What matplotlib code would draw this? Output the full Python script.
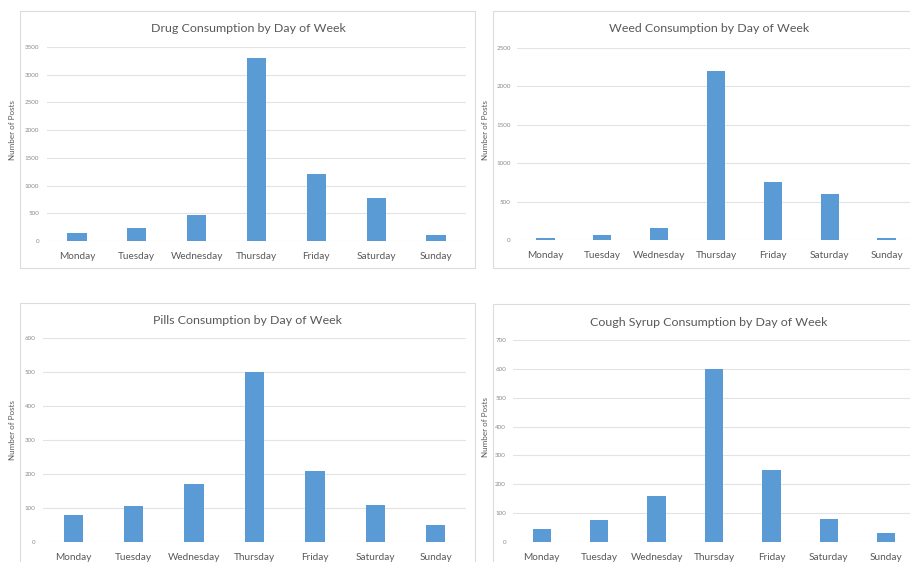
import matplotlib
matplotlib.use("Agg")
import matplotlib.pyplot as plt
from matplotlib.patches import Rectangle

plt.rcParams['font.family'] = ['Lato', 'DejaVu Sans']

W, H = 910, 562

days = ["Monday", "Tuesday", "Wednesday", "Thursday", "Friday", "Saturday", "Sunday"]

drug_posts = [150, 230, 475, 3300, 1200, 780, 100]
weed_posts = [30, 60, 150, 2200, 750, 600, 20]
pills_posts = [80, 105, 170, 500, 210, 110, 50]
cough_posts = [45, 75, 160, 600, 250, 80, 30]

titles = ["Drug Consumption by Day of Week",
          "Weed Consumption by Day of Week",
          "Pills Consumption by Day of Week",
          "Cough Syrup Consumption by Day of Week"]
y_ticks = [list(range(0, 3501, 500)),
           list(range(0, 2501, 500)),
           list(range(0, 601, 100)),
           list(range(0, 701, 100))]
series = [drug_posts, weed_posts, pills_posts, cough_posts]

BAR = "#5b9bd5"
GRID = "#e3e3e3"
FRAME = "#dcdcdc"
TEXT = "#595959"
TICK = "#8c8c8c"

fig = plt.figure(figsize=(W / 100, H / 100), dpi=100)
fig.patch.set_facecolor("white")


def fx(x):
    return x / W


def fy(y):
    return 1 - y / H


# panel frames: (left, top, right, bottom) in pixels
frames = [(20, 11, 475, 268), (493, 11, 925, 268),
          (20, 303, 475, 580), (493, 304, 925, 580)]
for (l, t, r, b) in frames:
    fig.patches.append(Rectangle((fx(l), fy(b)), fx(r - l), fy(t) - fy(b),
                                 transform=fig.transFigure, fill=False,
                                 edgecolor=FRAME, linewidth=0.8, zorder=0))

# plot areas: (left, top, right, bottom) in pixels
areas = [(47, 47, 466, 241), (517, 48, 915, 240),
         (43, 338, 466, 542), (513, 340, 915, 542)]
title_pos = [(248, 28), (709, 28), (248, 320), (709, 322)]
ylabel_pos = [(13, 130), (485, 130), (13, 430), (485, 427)]
ytick_pad = [5.5, 4.5, 5.5, 5.0]

for i in range(4):
    l, t, r, b = areas[i]
    ax = fig.add_axes([fx(l), fy(b), fx(r - l), fy(t) - fy(b)])
    ax.set_facecolor("none")
    ax.bar(range(len(days)), series[i], width=0.32, color=BAR, zorder=3)
    ax.set_xlim(-0.5, len(days) - 0.5)
    ax.set_ylim(0, y_ticks[i][-1])
    ax.set_yticks(y_ticks[i])
    ax.set_xticks(range(len(days)))
    ax.set_xticklabels(days)
    for s in ax.spines.values():
        s.set_visible(False)
    ax.yaxis.grid(True, color=GRID, linewidth=0.8)
    ax.set_axisbelow(True)
    ax.tick_params(axis="y", length=0, pad=ytick_pad[i], labelsize=4.5,
                   labelcolor=TICK)
    ax.tick_params(axis="x", length=0, pad=8, labelsize=7.2,
                   labelcolor=TEXT)

    tx, ty = title_pos[i]
    fig.text(fx(tx), fy(ty), titles[i], ha="center", va="center",
             fontsize=8.9, color=TEXT)
    lx, ly = ylabel_pos[i]
    fig.text(fx(lx), fy(ly), "Number of Posts", ha="center", va="center",
             rotation=90, fontsize=5.8, color=TEXT)

fig.savefig("out.png", dpi=100, facecolor="white")
